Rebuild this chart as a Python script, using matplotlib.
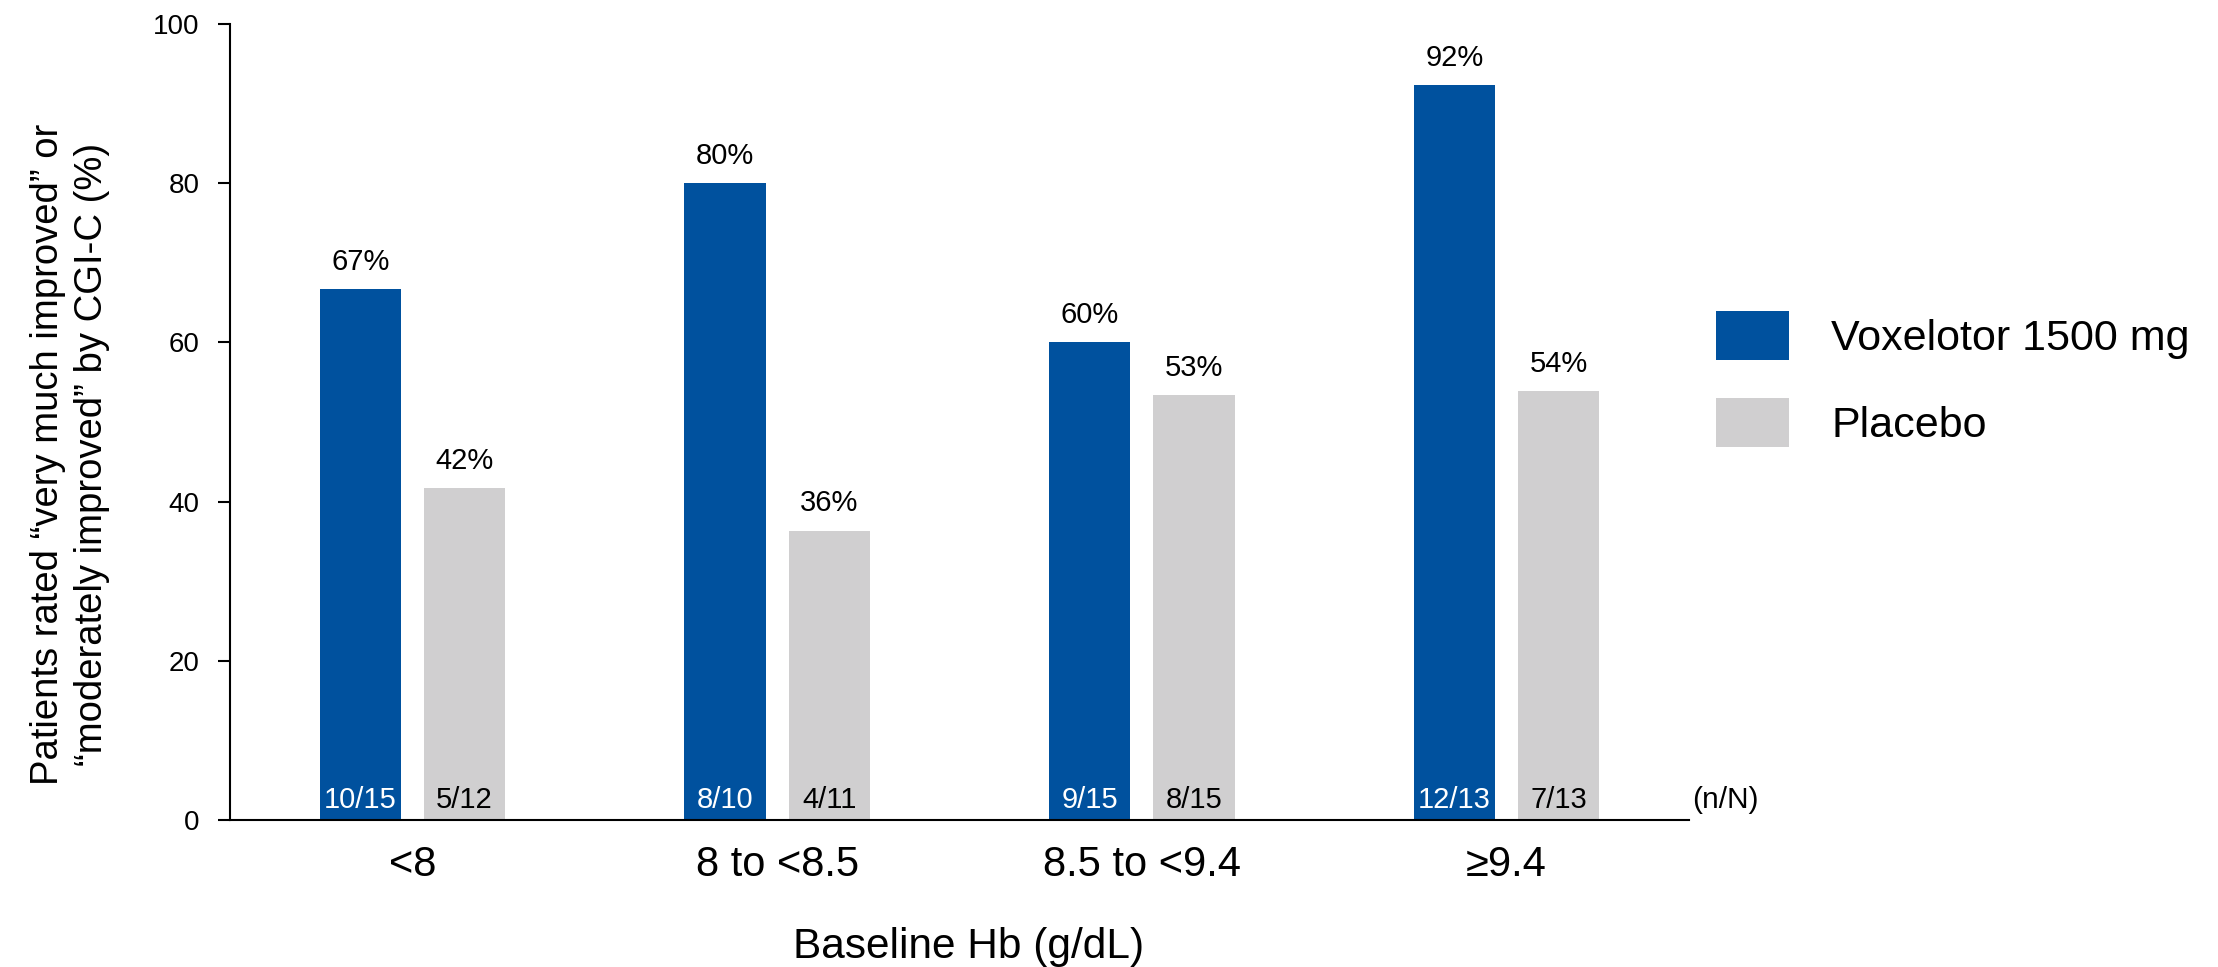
import matplotlib
matplotlib.use("Agg")
import matplotlib.pyplot as plt
from matplotlib import font_manager
from matplotlib.patches import Patch
import numpy as np

plt.rcParams["font.family"] = ["Liberation Sans", "DejaVu Sans"]

# Responder counts (n/N) per baseline haemoglobin subgroup
groups = ["<8", "8 to <8.5", "8.5 to <9.4", "\u22659.4"]
vox_n = [10, 8, 9, 12]
vox_N = [15, 10, 15, 13]
pbo_n = [5, 4, 8, 7]
pbo_N = [12, 11, 15, 13]
series_names = ["Voxelotor 1500 mg", "Placebo"]

BLUE = "#00519e"
GRAY = "#d0cfd0"

vox_pct = [100 * n / N for n, N in zip(vox_n, vox_N)]
pbo_pct = [100 * n / N for n, N in zip(pbo_n, pbo_N)]

fig = plt.figure(figsize=(22.18, 9.67), dpi=100)
ax = fig.add_axes([230 / 2218, 1 - 820 / 967, (1689 - 230) / 2218, (820 - 24) / 967])

x = np.arange(len(groups))
w = 0.223
off = 0.143

ax.bar(x - off, vox_pct, width=w, color=BLUE, label=series_names[0])
ax.bar(x + off, pbo_pct, width=w, color=GRAY, label=series_names[1])

for xi, p, n, N in zip(x - off, vox_pct, vox_n, vox_N):
    ax.text(xi, p + 2.4, f"{p:.0f}%", ha="center", va="baseline", fontsize=21)
    ax.text(xi, 1.5, f"{n}/{N}", ha="center", va="baseline", fontsize=21, color="white")
for xi, p, n, N in zip(x + off, pbo_pct, pbo_n, pbo_N):
    ax.text(xi, p + 2.4, f"{p:.0f}%", ha="center", va="baseline", fontsize=21)
    ax.text(xi, 1.5, f"{n}/{N}", ha="center", va="baseline", fontsize=21, color="black")

ax.text(1.002, 1.5, "(n/N)", transform=ax.get_yaxis_transform(), ha="left",
        va="baseline", fontsize=21.5)

ax.set_xlim(-0.5, 3.5)
ax.set_ylim(0, 100)
ax.set_yticks([0, 20, 40, 60, 80, 100])
ax.set_xticks(x)
ax.set_xticklabels(groups)
ax.tick_params(axis="x", length=0, pad=18, labelsize=30)
ax.tick_params(axis="y", length=9, width=1.5, pad=13, labelsize=20)

for s in ["top", "right"]:
    ax.spines[s].set_visible(False)
ax.spines["left"].set_linewidth(1.5)
ax.spines["bottom"].set_linewidth(1.5)

ax.set_xlabel("Baseline Hb (g/dL)", fontsize=30.5)
ax.xaxis.set_label_coords(0.506, -0.173)
ax.xaxis.label.set_verticalalignment("baseline")

# condensed face for the long axis title when available
names = {f.name for f in font_manager.fontManager.ttflist}
if "Liberation Sans Narrow" in names:
    ylab_font, ylab_size = "Liberation Sans Narrow", 32.5
else:
    ylab_font, ylab_size = "Liberation Sans", 27.5

fig.text(70 / 2218, 1 - 454 / 967,
         "Patients rated \u201cvery much improved\u201d or\n\u201cmoderately improved\u201d by CGI-C (%)",
         rotation=90, ha="center", va="center", multialignment="center",
         fontsize=ylab_size, linespacing=1.32, family=[ylab_font, "DejaVu Sans"])

handles = [Patch(facecolor=BLUE), Patch(facecolor=GRAY)]
fig.legend(handles, series_names, loc="upper left",
           bbox_to_anchor=(1716 / 2218, 1 - 311 / 967), frameon=False,
           fontsize=31, handlelength=1.7, handleheight=1.38,
           handletextpad=0.98, labelspacing=0.88, borderpad=0, borderaxespad=0)

fig.savefig("out.png", dpi=100)
